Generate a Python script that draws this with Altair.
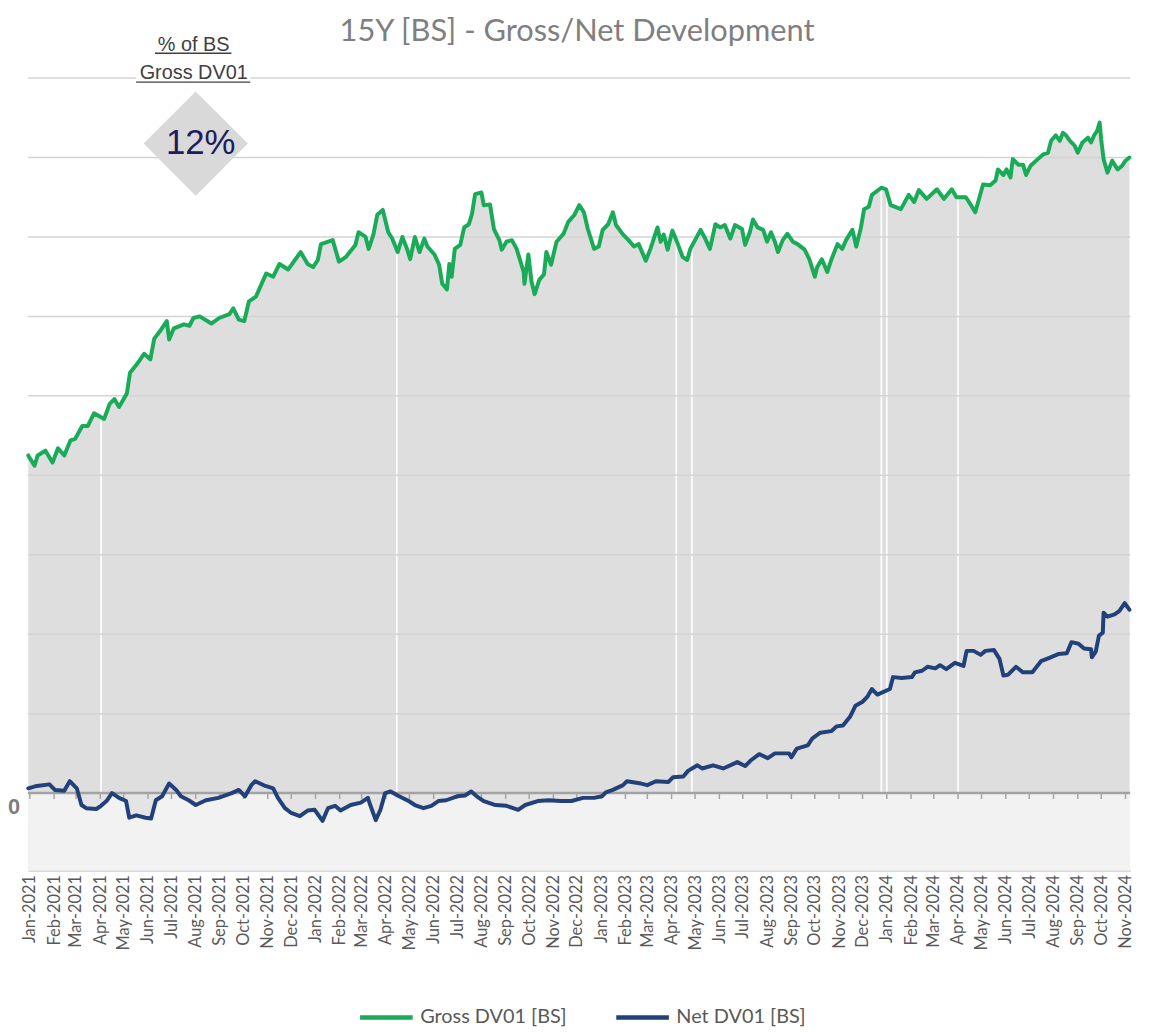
import altair as alt
import pandas as pd

START = "2021-01-01"  # day 0 of the day-offset arrays below

# Gross DV01 [BS]: days since START, value
gross_day = [-2, 6, 10, 20, 29, 36, 44, 52, 58, 67,
             74, 82, 95, 102, 108, 114, 124, 128, 137, 146,
             154, 159, 166, 175, 178, 184, 197, 204, 209, 217,
             232, 242, 255, 260, 267, 274, 280, 289, 293, 302,
             311, 319, 330, 346, 355, 362, 368, 372, 387, 395,
             404, 416, 420, 429, 433, 439, 444, 451, 458, 463,
             470, 476, 482, 486, 492, 498, 504, 508, 517, 523,
             527, 533, 536, 539, 543, 550, 555, 561, 565, 569,
             577, 580, 588, 593, 600, 603, 609, 616, 622, 631,
             632, 637, 641, 645, 651, 657, 660, 666, 673, 682,
             688, 696, 702, 708, 713, 721, 727, 732, 739, 745,
             749, 758, 765, 772, 778, 787, 793, 802, 806, 810,
             815, 821, 828, 834, 840, 844, 850, 857, 863, 869,
             876, 882, 888, 895, 901, 910, 914, 920, 924, 930,
             937, 942, 947, 952, 956, 962, 968, 975, 981, 990,
             996, 1003, 1006, 1012, 1019, 1024, 1032, 1038, 1043, 1051,
             1056, 1062, 1066, 1072, 1076, 1088, 1094, 1100, 1113, 1123,
             1130, 1136, 1146, 1159, 1168, 1178, 1184, 1196, 1202, 1208,
             1218, 1227, 1234, 1237, 1244, 1248, 1253, 1256, 1263, 1269,
             1273, 1279, 1288, 1295, 1301, 1305, 1311, 1316, 1320, 1324,
             1329, 1335, 1339, 1345, 1352, 1356, 1360, 1364, 1367, 1369,
             1372, 1377, 1383, 1390, 1396, 1400, 1405]
gross_val = [4.25, 4.12, 4.25, 4.31, 4.16, 4.34, 4.25, 4.44, 4.46, 4.62,
             4.62, 4.78, 4.71, 4.9, 4.96, 4.86, 5.03, 5.29, 5.4, 5.53,
             5.46, 5.72, 5.81, 5.94, 5.71, 5.85, 5.9, 5.88, 5.98, 6.0,
             5.91, 5.98, 6.03, 6.1, 5.96, 5.94, 6.19, 6.25, 6.34, 6.54,
             6.5, 6.66, 6.59, 6.81, 6.66, 6.62, 6.71, 6.91, 6.96, 6.69,
             6.75, 6.9, 7.06, 7.0, 6.85, 7.03, 7.28, 7.34, 7.06, 6.98,
             6.81, 7.0, 6.85, 6.72, 7.0, 6.81, 6.98, 6.88, 6.78, 6.65,
             6.41, 6.34, 6.66, 6.5, 6.85, 6.9, 7.12, 7.16, 7.29, 7.54,
             7.56, 7.4, 7.41, 7.1, 6.96, 6.84, 6.94, 6.96, 6.85, 6.56,
             6.41, 6.78, 6.44, 6.28, 6.46, 6.53, 6.81, 6.65, 6.94, 7.04,
             7.19, 7.28, 7.4, 7.31, 7.1, 6.85, 6.88, 7.09, 7.16, 7.31,
             7.15, 7.03, 6.96, 6.88, 6.91, 6.7, 6.85, 7.12, 6.94, 7.03,
             6.84, 7.08, 6.91, 6.75, 6.71, 6.85, 6.96, 7.09, 6.98, 6.85,
             7.16, 7.12, 7.15, 6.98, 7.15, 7.1, 6.9, 7.06, 7.22, 7.12,
             7.09, 6.94, 7.06, 6.94, 6.81, 6.96, 7.04, 6.94, 6.91, 6.84,
             6.72, 6.5, 6.62, 6.72, 6.56, 6.71, 6.91, 6.85, 6.96, 7.09,
             6.88, 7.12, 7.35, 7.38, 7.53, 7.62, 7.6, 7.4, 7.35, 7.53,
             7.44, 7.59, 7.48, 7.6, 7.48, 7.6, 7.5, 7.5, 7.41, 7.31,
             7.66, 7.65, 7.71, 7.85, 7.78, 7.85, 7.75, 7.98, 7.91, 7.91,
             7.78, 7.9, 7.98, 8.04, 8.06, 8.21, 8.28, 8.21, 8.31, 8.28,
             8.21, 8.15, 8.06, 8.19, 8.25, 8.19, 8.28, 8.34, 8.44, 8.22,
             7.98, 7.81, 7.96, 7.85, 7.9, 7.96, 8.0]

# Net DV01 [BS]: days since START, value
net_day = [-2, 9, 25, 32, 44, 51, 60, 66, 72, 85,
           91, 98, 105, 114, 123, 127, 136, 148, 155, 161,
           169, 178, 187, 193, 203, 212, 225, 241, 258, 267,
           275, 283, 288, 301, 311, 317, 326, 334, 345, 355,
           364, 374, 381, 390, 397, 410, 423, 432, 435, 442,
           448, 454, 461, 470, 484, 492, 503, 513, 522, 532,
           546, 556, 564, 571, 580, 595, 609, 624, 633, 649,
           663, 678, 692, 707, 721, 731, 736, 745, 758, 763,
           781, 789, 800, 816, 822, 835, 841, 853, 859, 873,
           886, 904, 914, 921, 932, 943, 952, 970, 973, 980,
           994, 1000, 1010, 1024, 1031, 1039, 1048, 1055, 1064, 1070,
           1076, 1083, 1099, 1103, 1114, 1127, 1131, 1140, 1147, 1157,
           1163, 1171, 1182, 1193, 1197, 1206, 1215, 1221, 1232, 1239,
           1244, 1250, 1260, 1269, 1281, 1292, 1302, 1314, 1325, 1331,
           1340, 1347, 1356, 1357, 1362, 1366, 1371, 1372, 1377, 1386,
           1392, 1399, 1405]
net_val = [0.06, 0.09, 0.11, 0.04, 0.03, 0.15, 0.06, -0.15, -0.19, -0.2,
           -0.16, -0.1, 0.0, -0.06, -0.1, -0.31, -0.28, -0.31, -0.32, -0.09,
           -0.04, 0.12, 0.04, -0.04, -0.09, -0.15, -0.09, -0.06, 0.0, 0.04,
           -0.04, 0.1, 0.15, 0.09, 0.06, -0.06, -0.19, -0.25, -0.29, -0.22,
           -0.21, -0.35, -0.19, -0.16, -0.22, -0.15, -0.12, -0.06, -0.15, -0.34,
           -0.21, 0.0, 0.02, -0.03, -0.1, -0.15, -0.19, -0.16, -0.1, -0.09,
           -0.04, -0.03, 0.02, -0.04, -0.1, -0.15, -0.16, -0.21, -0.15, -0.1,
           -0.09, -0.1, -0.1, -0.06, -0.06, -0.04, 0.01, 0.04, 0.1, 0.15,
           0.12, 0.1, 0.15, 0.14, 0.2, 0.21, 0.28, 0.35, 0.31, 0.35,
           0.31, 0.39, 0.34, 0.41, 0.49, 0.44, 0.5, 0.5, 0.45, 0.56,
           0.6, 0.69, 0.76, 0.78, 0.84, 0.85, 0.96, 1.1, 1.15, 1.21,
           1.31, 1.24, 1.31, 1.46, 1.45, 1.46, 1.52, 1.54, 1.59, 1.57,
           1.61, 1.56, 1.64, 1.6, 1.79, 1.79, 1.74, 1.79, 1.8, 1.69,
           1.48, 1.49, 1.59, 1.52, 1.52, 1.66, 1.7, 1.75, 1.76, 1.9,
           1.88, 1.82, 1.81, 1.71, 1.78, 1.98, 2.02, 2.27, 2.22, 2.25,
           2.29, 2.39, 2.31]

# days without data (thin white gaps in the gross area) and gross level there
gap_day = [91, 469, 826, 846, 1088, 1095, 1186]
gap_top = [4.72, 6.85, 6.97, 6.9, 7.6, 7.58, 7.48]

grid_values = [1, 2, 3, 4, 5, 6, 7, 8, 9]
series_names = ["Gross DV01  [BS]", "Net DV01 [BS]"]
series_colors = ["#1aab58", "#22407a"]

title_text = "15Y [BS] - Gross/Net  Development"
badge_head = ["% of BS", "Gross DV01"]
badge_value = "12%"
zero_label = "0"

W, H = 1110, 798
Y_MIN, Y_MAX = -0.975, 9


def to_dates(days):
    return pd.Timestamp(START) + pd.to_timedelta(days, unit="D")


gross_df = pd.DataFrame({"date": to_dates(gross_day), "value": gross_val, "series": series_names[0]})
net_df = pd.DataFrame({"date": to_dates(net_day), "value": net_val, "series": series_names[1]})
lines_df = pd.concat([gross_df, net_df], ignore_index=True)
gap_df = pd.DataFrame({"date": to_dates(gap_day), "top": gap_top, "base": 0.0})
grid_df = pd.DataFrame({"value": grid_values})
month_df = pd.DataFrame({"date": pd.date_range("2021-01-01", "2024-11-01", freq="MS")})
month_df["value"] = 0.0
month_df["low"] = -0.075
one = pd.DataFrame({"value": [0.0], "low": [Y_MIN]})

xscale = alt.Scale(domain=[alt.DateTime(year=2020, month=12, date=29, hours=12),
                           alt.DateTime(year=2024, month=11, date=7)])
yscale = alt.Scale(domain=[Y_MIN, Y_MAX], nice=False, zero=False)

xaxis = alt.Axis(format="%b-%Y", labelAngle=-90, labelFont="Lato", labelFontSize=16.5,
                 labelColor="#595959", labelPadding=4, ticks=False, grid=False,
                 domainColor="#d9d9d9", domainWidth=2, title=None,
                 tickCount=alt.TimeIntervalStep(interval="month", step=1),
                 labelOverlap=False, labelFlush=False, labelBound=False)

X = alt.X("date:T", scale=xscale, axis=xaxis)
Y = alt.Y("value:Q", scale=yscale, axis=None)

neg_band = alt.Chart(one).mark_rect(color="#f2f2f2").encode(
    x=alt.value(0), x2=alt.value(W), y=Y, y2=alt.Y2("low:Q"))

net_area = alt.Chart(net_df).mark_area(color="#e4e4e4").encode(
    x=X, y=Y, y2=alt.Y2Datum(0.0))

gross_area = alt.Chart(gross_df).mark_area(color="#dedede").encode(
    x=X, y=Y, y2=alt.Y2Datum(0.0))

gaps = alt.Chart(gap_df).mark_rule(color="white", strokeWidth=1.6).encode(
    x=X, y=alt.Y("top:Q", scale=yscale, axis=None), y2=alt.Y2("base:Q"))

grid = alt.Chart(grid_df).mark_rule(color="#d4d4d4", strokeWidth=1.5).encode(y=Y)

zero_line = alt.Chart(one).mark_rule(color="#a3a3a3", strokeWidth=2.5).encode(y=Y)

month_ticks = alt.Chart(month_df).mark_rule(color="#a6a6a6", strokeWidth=1.5).encode(
    x=X, y=Y, y2=alt.Y2("low:Q"))

lines = alt.Chart(lines_df).mark_line(strokeWidth=4, strokeJoin="round", strokeCap="round").encode(
    x=X, y=Y,
    color=alt.Color("series:N",
                    scale=alt.Scale(domain=series_names, range=series_colors),
                    legend=alt.Legend(orient="none", legendX=332, legendY=917,
                                      direction="horizontal", title=None,
                                      symbolType="stroke", symbolSize=2809,
                                      symbolStrokeWidth=4.5, labelFont="Lato",
                                      labelFontSize=20, labelColor="#595959",
                                      labelOffset=5, columnPadding=35, labelLimit=400)),
    order=alt.Order("date:T"))

zero_txt = alt.Chart(one).mark_text(text=zero_label, font="Liberation Sans", fontSize=22,
                                    fontWeight="bold", color="#7f7f7f", align="center",
                                    baseline="middle", dy=14).encode(
    x=alt.value(-14), y=Y)


def label(text, x, y, **kw):
    return alt.Chart(one).mark_text(text=text, **kw).encode(x=alt.value(x), y=alt.value(y))


title = label(title_text, 553, -37, font="Lato", fontSize=31, color="#7f7f7f",
              align="center", baseline="alphabetic")

badge_box = alt.Chart(one).mark_rect(color="white").encode(
    x=alt.value(109), x2=alt.value(224), y=alt.value(-17), y2=alt.value(3))

head1 = label(badge_head[0], 167, -27, font="Liberation Sans", fontSize=20,
              color="#404040", align="center", baseline="alphabetic")
head2 = label(badge_head[1], 167, 1, font="Liberation Sans", fontSize=20,
              color="#404040", align="center", baseline="alphabetic")
ul1 = alt.Chart(one).mark_rule(color="#404040", strokeWidth=1.3).encode(
    x=alt.value(128), x2=alt.value(205), y=alt.value(-25))
ul2 = alt.Chart(one).mark_rule(color="#404040", strokeWidth=1.3).encode(
    x=alt.value(109), x2=alt.value(224), y=alt.value(4))

diamond = alt.Chart(one).mark_point(shape="diamond", filled=True, size=11000,
                                    color="#d9d9d9", opacity=1).encode(
    x=alt.value(169), y=alt.value(66))
badge_txt = label(badge_value, 174, 65, font="Liberation Sans", fontSize=35,
                  color="#201c5c", align="center", baseline="middle")

chart = alt.layer(
    neg_band, net_area, gross_area, gaps, grid, zero_line, month_ticks, lines,
    zero_txt, title, badge_box, head1, head2, ul1, ul2, diamond, badge_txt
).properties(
    width=W, height=H,
    autosize=alt.AutoSizeParams(type="none"),
    padding={"left": 20, "top": 67, "right": 28, "bottom": 158},
).configure_view(stroke=None)

chart.save("out.html", embed_options={"renderer": "svg", "actions": False})
